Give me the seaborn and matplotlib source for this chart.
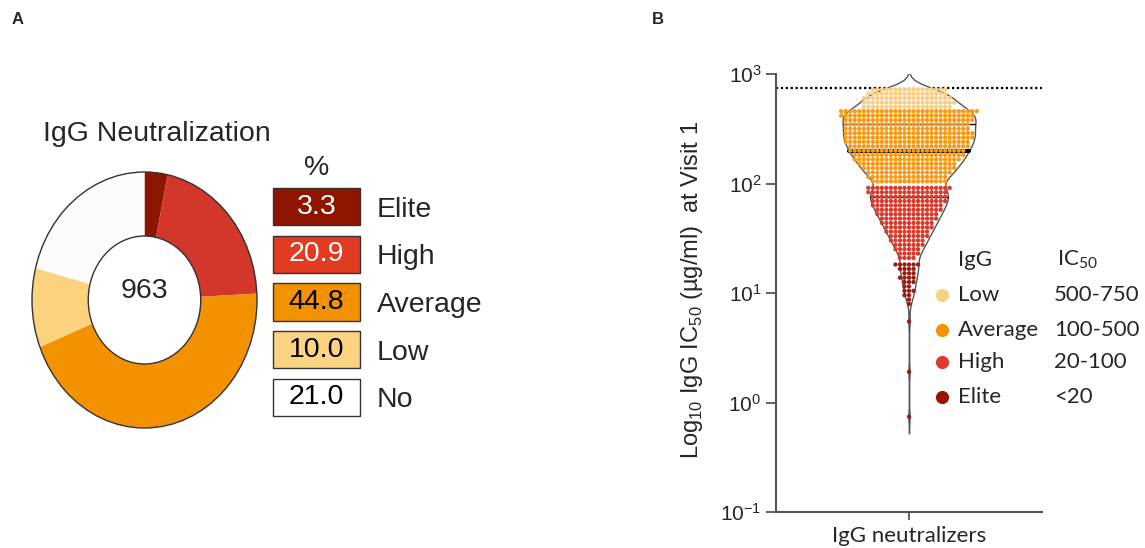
import numpy as np
import pandas as pd
import matplotlib
matplotlib.use("Agg")
import matplotlib.pyplot as plt
import seaborn as sns
from matplotlib.patches import Circle
from matplotlib.ticker import NullLocator

# ---------------- data: panel A ----------------
levels = ["Elite", "High", "Average", "Low", "No"]
percent = [3.3, 20.9, 44.8, 10.0, 21.0]
total_n = 963
pie_colors = ["#8E1600", "#D3362B", "#F39200", "#FBD27D", "#FCFCFC"]
box_colors = ["#8E1600", "#E13B22", "#F39200", "#FCD382", "#FFFFFF"]
box_text_colors = ["white", "white", "black", "black", "black"]
box_fill = [1, 1, 1, 1, 1]

# ---------------- data: panel B (rows of points, log10 IC50 and counts) ----------------
elite_log = [1.26, 1.22, 1.18, 1.14, 1.10, 1.06, 1.02, 0.98, 0.94, 0.90, 0.74, 0.28, -0.13]
elite_n = [6, 4, 3, 4, 3, 2, 3, 2, 1, 1, 1, 1, 1]
high_log = [1.32, 1.36, 1.40, 1.44, 1.48, 1.52, 1.56, 1.60, 1.64, 1.68, 1.72, 1.76, 1.80,
            1.84, 1.88, 1.92, 1.96]
high_n = [4, 5, 6, 7, 8, 9, 10, 11, 12, 13, 14, 15, 16, 17, 17, 18, 19]
avg_log = [2.02, 2.06, 2.10, 2.14, 2.18, 2.22, 2.26, 2.30, 2.34, 2.38, 2.42, 2.46, 2.50,
           2.54, 2.58, 2.62, 2.66]
avg_n = [17, 18, 19, 21, 22, 24, 25, 26, 27, 28, 29, 29, 28, 28, 29, 30, 31]
low_log = [2.70, 2.74, 2.78, 2.82, 2.86]
low_n = [20, 21, 20, 18, 17]
cutoff = 750
group_name = "IgG neutralizers"
legend_levels = ["Low", "Average", "High", "Elite"]
legend_ranges = ["500-750", "100-500", "20-100", "<20"]
dot_palette = {"Low": "#F9CF85", "Average": "#F59A17", "High": "#DA3A2C", "Elite": "#9E1B0F"}
legend_colors = {"Low": "#FAD27F", "Average": "#F39200", "High": "#E0392F", "Elite": "#9B1400"}

rows = []
for name, logs, counts in [("Elite", elite_log, elite_n), ("High", high_log, high_n),
                           ("Average", avg_log, avg_n), ("Low", low_log, low_n)]:
    vals = np.repeat(10 ** np.array(logs), counts)
    rows.append(pd.DataFrame({"group": group_name, "ic50": vals, "level": name}))
df = pd.concat(rows, ignore_index=True)

# ---------------- figure ----------------
sns.set_style("ticks")
plt.rcParams["font.family"] = ["Liberation Sans", "DejaVu Sans"]
W, H = 1145, 548
fig = plt.figure(figsize=(W / 100, H / 100), dpi=100)


def px(x0, y0, w, h):
    return [x0 / W, 1 - (y0 + h) / H, w / W, h / H]


fig.text(12 / W, 1 - 20 / H, "A", fontsize=12, weight="bold", va="center")
fig.text(652 / W, 1 - 20 / H, "B", fontsize=12, weight="bold", va="center")

# ---- donut ----
axp = fig.add_axes(px(32, 172, 225, 256))
axp.pie(percent, colors=pie_colors, startangle=90, counterclock=False, radius=1,
        wedgeprops=dict(width=0.5, edgecolor="none", linewidth=0))
axp.set_aspect("auto")
axp.set_xlim(-1, 1)
axp.set_ylim(-1, 1)
axp.add_patch(Circle((0, 0), 1.0, fill=False, ec="#333333", lw=1.0, clip_on=False))
axp.add_patch(Circle((0, 0), 0.5, fill=False, ec="#333333", lw=1.0, clip_on=False))
axp.text(0, 0.07, str(total_n), ha="center", va="center", fontsize=20.5)
axp.axis("off")
fig.text(43 / W, 1 - 134 / H, "IgG Neutralization", fontsize=20.5, va="center")

# ---- boxes ----
axb = fig.add_axes(px(273, 182.75, 87, 238.5))
sns.barplot(x=box_fill, y=levels, hue=levels, palette=box_colors, orient="h", width=0.78,
            saturation=1, edgecolor="#333333", linewidth=1, legend=False, ax=axb)
axb.set_xlim(0, 1)
axb.set_ylim(4.5, -0.5)
for p in axb.patches:
    p.set_clip_on(False)
for cont, pct, tc in zip(axb.containers, percent, box_text_colors):
    axb.bar_label(cont, labels=[f"{pct:.1f}"], label_type="center", color=tc, fontsize=20.5)
axb.yaxis.tick_right()
axb.tick_params(axis="y", length=0, pad=12, labelsize=20.5)
axb.set_xticks([])
axb.set_xlabel("")
axb.set_ylabel("")
for s in axb.spines.values():
    s.set_visible(False)
fig.text(317 / W, 1 - 168 / H, "%", fontsize=20.5, ha="center", va="center")

# ---- violin + dots ----
axv = fig.add_axes(px(776, 74, 266, 438))
sns.violinplot(data=df, x="group", y="ic50", log_scale=True, color="white",
               linecolor="#555555", linewidth=1, width=0.5, inner="quart",
               bw_adjust=0.5, cut=2.5, ax=axv)
for c in axv.collections:
    c.set_zorder(2)
qlines = list(axv.lines)
for i, ln in enumerate(qlines):
    ln.set_linestyle("-")
    ln.set_color("black")
    ln.set_linewidth(3 if i == 1 else 1)
    ln.set_zorder(2.5)
axv.axhline(cutoff, color="black", ls=(0, (1, 1.2)), lw=1.6, zorder=1)
sns.swarmplot(data=df, x="group", y="ic50", hue="level", palette=dot_palette,
              hue_order=["Elite", "High", "Average", "Low"], log_scale=True,
              size=3.1, linewidth=0, legend=False, ax=axv, zorder=3)
axv.set_ylim(0.1, 1000)
axv.set_xlim(-0.5, 0.5)
axv.set_yticks([0.1, 1, 10, 100, 1000])
axv.set_yticklabels([r"$\mathregular{10^{-1}}$", r"$\mathregular{10^{0}}$",
                     r"$\mathregular{10^{1}}$", r"$\mathregular{10^{2}}$",
                     r"$\mathregular{10^{3}}$"])
axv.yaxis.set_minor_locator(NullLocator())
axv.tick_params(axis="y", labelsize=15, length=7, width=1.3, color="#555555")
axv.tick_params(axis="x", length=6, width=1.3, color="#555555", pad=4)
for lab in axv.get_xticklabels():
    lab.set_fontfamily(["Lato", "DejaVu Sans"])
    lab.set_fontsize(16)
axv.set_xlabel("")
axv.set_ylabel(r"Log$_{\mathregular{10}}$ IgG IC$_{\mathregular{50}}$ (µg/ml)  at Visit 1",
               fontsize=17)
axv.yaxis.set_label_coords(-0.267, 0.507)
sns.despine(ax=axv)
for s in ["left", "bottom"]:
    axv.spines[s].set_color("#555555")
    axv.spines[s].set_linewidth(1.5)

# legend
lat = ["Lato", "DejaVu Sans"]
axv.text(0.684, 0.575, "IgG", transform=axv.transAxes, fontsize=16, family=lat, va="center")
axv.text(1.055, 0.575, r"IC$_{\mathregular{50}}$", transform=axv.transAxes, fontsize=16,
         family=lat, va="center")
for i, (lv, rg) in enumerate(zip(legend_levels, legend_ranges)):
    yy = [0.495, 0.416, 0.342, 0.263][i]
    axv.scatter([0.624], [yy], s=90, color=legend_colors[lv], transform=axv.transAxes,
                clip_on=False, zorder=5, linewidths=0)
    axv.text(0.684, yy, lv, transform=axv.transAxes, fontsize=16, family=lat, va="center")
    axv.text(1.045, yy, rg, transform=axv.transAxes, fontsize=16, family=lat, va="center")

fig.savefig("out.png", dpi=100)
